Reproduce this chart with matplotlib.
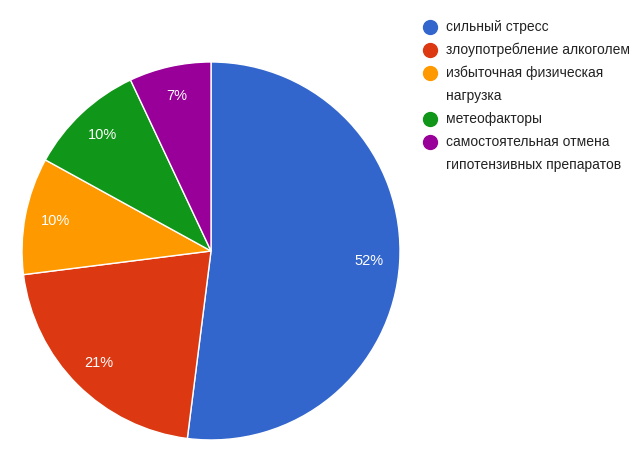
import matplotlib.pyplot as plt
from matplotlib.lines import Line2D

labels = ['сильный стресс', 'злоупотребление алкоголем',
          'избыточная физическая\nнагрузка', 'метеофакторы',
          'самостоятельная отмена\nгипотензивных препаратов']
values = [52, 21, 10, 10, 7]
colors = ['#3366CC', '#DC3912', '#FF9900', '#109618', '#990099']

plt.rcParams['font.family'] = ['Liberation Sans', 'DejaVu Sans']

fig = plt.figure(figsize=(6.4, 4.55), dpi=100)
ax = fig.add_axes([0.0344, 0.033, 0.5906, 0.8308])
wedges, texts, autotexts = ax.pie(values, colors=colors, startangle=90, counterclock=False,
                                  autopct='%d%%', pctdistance=0.84,
                                  wedgeprops={'edgecolor': 'white', 'linewidth': 1})
for t in autotexts:
    t.set_color('white')
    t.set_fontsize(10.5)
ax.set_xlim(-1, 1)
ax.set_ylim(-1, 1)
ax.set_aspect('equal')

# legend drawn by hand
y = 455 - 27
for lab, c in zip(labels, colors):
    fig.add_artist(Line2D([430 / 640], [y / 455], marker='o', markersize=10,
                          color=c, transform=fig.transFigure))
    for i, line in enumerate(lab.split('\n')):
        fig.text(446 / 640, (y - 23 * i) / 455, line, fontsize=10,
                 color='#222222', va='center', ha='left')
    y -= 23 * (lab.count('\n') + 1)

fig.savefig('out.png', dpi=100)
